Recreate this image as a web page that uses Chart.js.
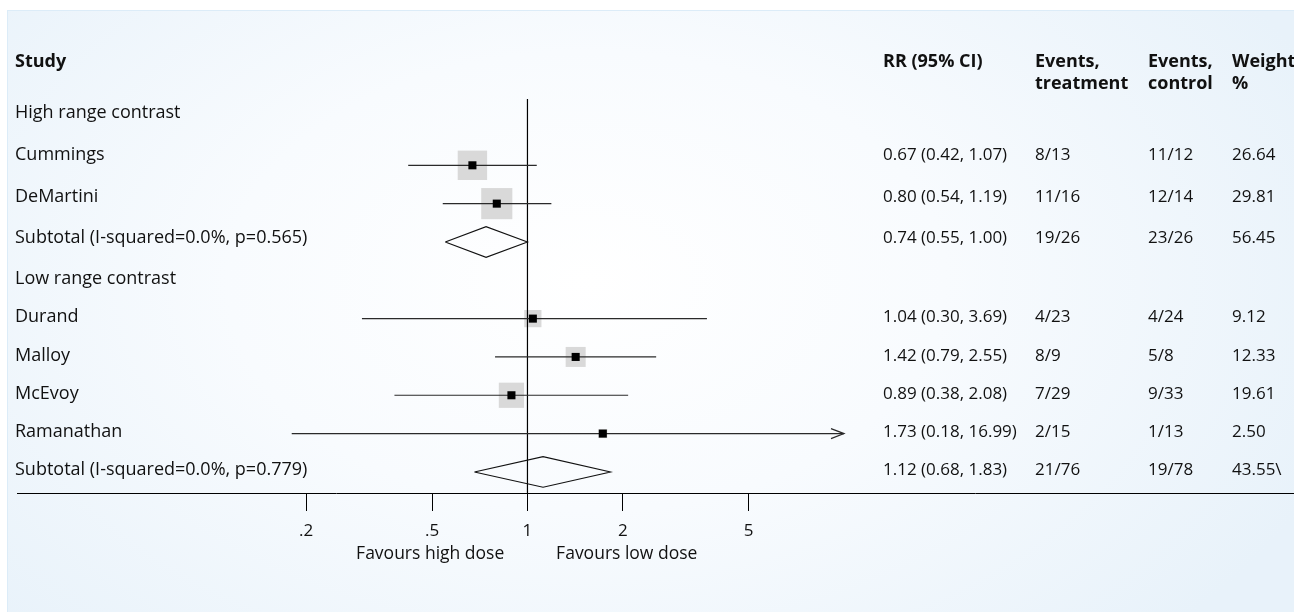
<!DOCTYPE html>
<html>
<head>
<meta charset="utf-8">
<script src="https://cdn.jsdelivr.net/npm/chart.js@4.4.1/dist/chart.umd.min.js"></script>
<style>
  html, body { margin: 0; padding: 0; background: #fff; }
  #wrap { position: relative; width: 1294px; height: 612px; overflow: hidden; }
  #panel {
    position: absolute; left: 7px; top: 10px; right: 0; bottom: 0;
    border-left: 1px solid #dcecf8; border-top: 1px solid #dcecf8;
    background: radial-gradient(ellipse 62% 85% at 45% 45%, #ffffff 0%, #f8fbfe 45%, #e8f2fa 100%);
  }
  #forest { position: absolute; left: 0; top: 0; }
</style>
</head>
<body>
<div id="wrap">
  <div id="panel"></div>
  <canvas id="forest" width="1294" height="612"></canvas>
</div>
<script>
// rows, top to bottom
const studies = ['High range contrast', 'Cummings', 'DeMartini', 'Subtotal (I-squared=0.0%, p=0.565)',
  'Low range contrast', 'Durand', 'Malloy', 'McEvoy', 'Ramanathan', 'Subtotal (I-squared=0.0%, p=0.779)'];
const rowType = ['group', 'study', 'study', 'subtotal', 'group', 'study', 'study', 'study', 'study', 'subtotal'];
const rr = [null, 0.67, 0.80, 0.74, null, 1.04, 1.42, 0.89, 1.73, 1.12];
const ciLow = [null, 0.42, 0.54, 0.55, null, 0.30, 0.79, 0.38, 0.18, 0.68];
const ciHigh = [null, 1.07, 1.19, 1.00, null, 3.69, 2.55, 2.08, 16.99, 1.83];
const eventsTreatment = ['', '8/13', '11/16', '19/26', '', '4/23', '8/9', '7/29', '2/15', '21/76'];
const eventsControl = ['', '11/12', '12/14', '23/26', '', '4/24', '5/8', '9/33', '1/13', '19/78'];
const weights = [null, 26.64, 29.81, 56.45, null, 9.12, 12.33, 19.61, 2.50, 43.55];
const weightText = ['', '26.64', '29.81', '56.45', '', '9.12', '12.33', '19.61', '2.50', '43.55\\'];
const xTicks = [0.2, 0.5, 1, 2, 5];
const xTickLabels = ['.2', '.5', '1', '2', '5'];
const xCap = 10; // CIs beyond this get an arrow

const FONT = '"Open Sans", "Noto Sans", sans-serif';
const textY = [113, 155, 197, 238, 279, 317, 356, 394, 432, 470];

// build datasets
const datasets = [];

// grey weight boxes
const boxPts = [], boxR = [];
rowType.forEach((t, i) => {
  if (t === 'study') { boxPts.push({x: rr[i], y: i}); boxR.push(4.03 * Math.sqrt(weights[i])); }
});
datasets.push({
  type: 'scatter', data: boxPts, pointStyle: 'rect', pointRadius: boxR,
  backgroundColor: '#d9d9d9', borderWidth: 0, order: 5
});

// reference line at 1
datasets.push({
  type: 'line', data: [{x: 1, y: -0.73}, {x: 1, y: 9.55}],
  borderColor: '#000', borderWidth: 1.2, pointRadius: 0, order: 4
});

// CI lines
rowType.forEach((t, i) => {
  if (t !== 'study') return;
  datasets.push({
    type: 'line', data: [{x: ciLow[i], y: i}, {x: Math.min(ciHigh[i], xCap), y: i}],
    borderColor: '#2a2a2a', borderWidth: 1.2, pointRadius: 0, order: 3
  });
});

// diamonds for subtotals
rowType.forEach((t, i) => {
  if (t !== 'subtotal') return;
  datasets.push({
    type: 'line',
    data: [{x: ciLow[i], y: i}, {x: rr[i], y: i - 0.4}, {x: ciHigh[i], y: i}, {x: rr[i], y: i + 0.4}, {x: ciLow[i], y: i}],
    borderColor: '#111', borderWidth: 1.1, pointRadius: 0, fill: false, tension: 0, order: 2
  });
});

// point estimates
datasets.push({
  type: 'scatter',
  data: rowType.map((t, i) => t === 'study' ? {x: rr[i], y: i} : null).filter(p => p),
  pointStyle: 'rect', pointRadius: 5.7, backgroundColor: '#000', borderWidth: 0, order: 1
});

const tablePlugin = {
  id: 'forestTable',
  afterDraw(chart) {
    const ctx = chart.ctx;
    const xs = chart.scales.x, ys = chart.scales.y;
    ctx.save();
    ctx.fillStyle = '#111';
    ctx.textBaseline = 'middle';
    ctx.textAlign = 'left';

    // header
    ctx.font = 'bold 18px ' + FONT;
    ctx.fillText('Study', 15, 62);
    ctx.fillText('RR (95% CI)', 883, 62);
    ctx.fillText('Events,', 1035, 62);
    ctx.fillText('treatment', 1035, 84);
    ctx.fillText('Events,', 1148, 62);
    ctx.fillText('control', 1148, 84);
    ctx.fillText('Weight', 1232, 62);
    ctx.fillText('%', 1232, 84);

    // rows
    studies.forEach((s, i) => {
      ctx.font = '18px ' + FONT;
      ctx.fillText(s, 15, textY[i]);
      if (rr[i] == null) return;
      ctx.font = '17px ' + FONT;
      ctx.fillText(rr[i].toFixed(2) + ' (' + ciLow[i].toFixed(2) + ', ' + ciHigh[i].toFixed(2) + ')', 883, textY[i]);
      ctx.fillText(eventsTreatment[i], 1035, textY[i]);
      ctx.fillText(eventsControl[i], 1148, textY[i]);
      ctx.fillText(weightText[i], 1232, textY[i]);
    });

    // arrow heads for capped CIs
    ctx.strokeStyle = '#2a2a2a';
    ctx.lineWidth = 1.2;
    rowType.forEach((t, i) => {
      if (t !== 'study' || ciHigh[i] <= xCap) return;
      const px = xs.getPixelForValue(xCap), py = ys.getPixelForValue(i);
      ctx.beginPath();
      ctx.moveTo(px - 13, py - 5);
      ctx.lineTo(px, py);
      ctx.lineTo(px - 13, py + 5);
      ctx.stroke();
    });

    // favours labels
    ctx.font = '17.5px ' + FONT;
    ctx.textAlign = 'center';
    ctx.fillText('Favours high dose', xs.getPixelForValue(0.5) - 2, 554);
    ctx.fillText('Favours low dose', xs.getPixelForValue(2) + 4, 554);
    ctx.restore();
  }
};

new Chart(document.getElementById('forest'), {
  data: { datasets: datasets },
  options: {
    responsive: false,
    animation: false,
    layout: { autoPadding: false, padding: { left: 17, right: 0, top: 99, bottom: 0 } },
    plugins: { legend: { display: false }, tooltip: { enabled: false } },
    scales: {
      x: {
        type: 'logarithmic',
        min: 0.0244, max: 264,
        afterBuildTicks: (scale) => { scale.ticks = xTicks.map(v => ({value: v})); },
        afterFit: (scale) => { scale.height = 119; scale.paddingLeft = 0; scale.paddingRight = 0; },
        ticks: {
          autoSkip: false, maxRotation: 0, padding: 10, color: '#111',
          font: { family: FONT, size: 17 },
          callback: (v) => { const k = xTicks.indexOf(v); return k >= 0 ? xTickLabels[k] : ''; }
        },
        grid: { drawOnChartArea: false, drawTicks: true, tickLength: 18, color: '#000', lineWidth: 1 },
        border: { display: true, color: '#000', width: 1 }
      },
      y: { type: 'linear', min: -0.73, max: 9.55, reverse: true, display: false }
    }
  },
  plugins: [tablePlugin]
});
</script>
</body>
</html>
